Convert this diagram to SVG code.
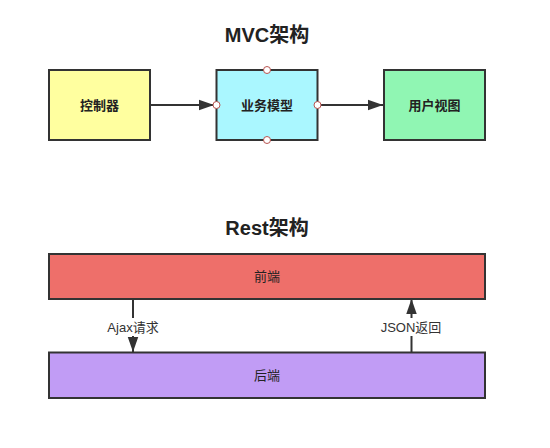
<svg xmlns="http://www.w3.org/2000/svg" width="550" height="448" viewBox="0 0 550 448">
<style>
.title{font-family:"Liberation Sans","Noto Sans CJK SC",sans-serif;font-size:20px;font-weight:bold;fill:#222;text-anchor:middle}
.lbl{font-family:"Liberation Sans","Noto Sans CJK SC",sans-serif;font-size:13px;font-weight:bold;fill:#222;text-anchor:middle;dominant-baseline:central}
.lbl2{font-family:"Liberation Sans","Noto Sans CJK SC",sans-serif;font-size:13px;fill:#222;text-anchor:middle;dominant-baseline:central}
.edge{font-family:"Liberation Sans","Noto Sans CJK SC",sans-serif;font-size:13px;fill:#333;text-anchor:middle;dominant-baseline:central}
.box{stroke:#333;stroke-width:2}
.conn{stroke:#333;stroke-width:2;fill:none}
.pt{fill:#fff;stroke:#b85450;stroke-width:1}
</style>
<defs>
<marker id="ah" viewBox="0 0 10 10" refX="10" refY="5" markerWidth="7.5" markerHeight="7.5" orient="auto" markerUnits="strokeWidth">
<path d="M0,1.5 L10,5 L0,8.5 Z" fill="#333"/>
</marker>
</defs>
<rect width="550" height="448" fill="#fff"/>
<text class="title" x="267" y="42">MVC架构</text>
<text class="title" x="267" y="235">Rest架构</text>
<g id="connectors">
<line class="conn" x1="150" y1="105" x2="214" y2="105" marker-end="url(#ah)"/>
<line class="conn" x1="317" y1="105" x2="383" y2="105" marker-end="url(#ah)"/>
<line class="conn" x1="133" y1="299" x2="133" y2="352" marker-end="url(#ah)"/>
<line class="conn" x1="411.5" y1="352" x2="411.5" y2="299" marker-end="url(#ah)"/>
<rect x="106" y="318" width="54" height="18" fill="#fff"/>
<text class="edge" x="133" y="327">Ajax请求</text>
<rect x="380" y="318" width="63" height="18" fill="#fff"/>
<text class="edge" x="411" y="327">JSON返回</text>
</g>
<g id="controller">
<rect class="box" x="49" y="70" width="101" height="70" fill="#ffff9f"/>
<text class="lbl" x="99.5" y="105">控制器</text>
</g>
<g id="model">
<rect class="box" x="216.5" y="70" width="101" height="70" fill="#aaf7ff"/>
<text class="lbl" x="267" y="105">业务模型</text>
<circle class="pt" cx="216.5" cy="105" r="3.5"/>
<circle class="pt" cx="317.5" cy="105" r="3.5"/>
<circle class="pt" cx="267" cy="70" r="3.5"/>
<circle class="pt" cx="267" cy="140" r="3.5"/>
</g>
<g id="view">
<rect class="box" x="384" y="70" width="101" height="70" fill="#90f6b3"/>
<text class="lbl" x="434.5" y="105">用户视图</text>
</g>
<g id="frontend">
<rect class="box" x="49" y="254" width="436" height="45" fill="#ee6f6a"/>
<text class="lbl2" x="267" y="276.5">前端</text>
</g>
<g id="backend">
<rect class="box" x="49" y="352.5" width="436" height="45.5" fill="#c19cf5"/>
<text class="lbl2" x="267" y="375">后端</text>
</g>
</svg>
